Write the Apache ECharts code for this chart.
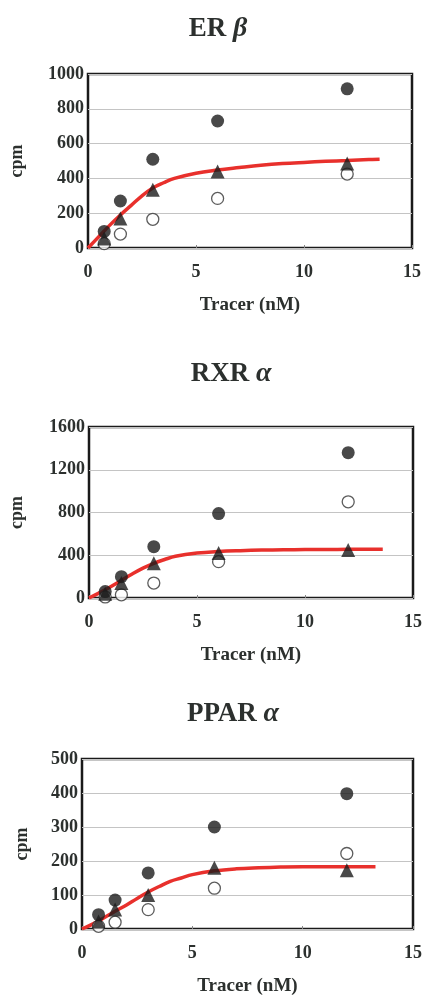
<!DOCTYPE html>
<html>
<head>
<meta charset="utf-8">
<title>Tracer binding</title>
<style>
  html, body { margin: 0; padding: 0; background: #fff; }
  #main { width: 425px; height: 997px; }
</style>
</head>
<body>
<div id="main"></div>
<script src="https://cdn.jsdelivr.net/npm/echarts@6/dist/echarts.min.js"></script>
<script>
// tracer concentrations (nM)
var tracer = [0.75, 1.5, 3, 6, 12];

// ER beta
var erTotal = [95, 270, 510, 730, 915];
var erSpecific = [55, 170, 335, 440, 485];
var erNonspecific = [25, 80, 165, 285, 425];
var erFit = [[0, 0], [0.5, 65], [1, 130], [1.5, 190], [2, 245], [2.5, 300], [3, 345], [3.5, 375], [4, 400],
  [5, 430], [6, 448], [7, 462], [8, 475], [9, 485], [10, 492], [11, 498], [12, 503], [13, 508], [13.5, 510]];

// RXR alpha
var rxrTotal = [60, 200, 480, 790, 1360];
var rxrSpecific = [40, 140, 325, 420, 450];
var rxrNonspecific = [10, 30, 140, 340, 900];
var rxrFit = [[0, 0], [0.5, 50], [1, 105], [1.5, 165], [2, 225], [2.5, 280], [3, 325], [3.5, 360], [4, 390],
  [5, 420], [6, 435], [7, 443], [8, 448], [9, 451], [10, 453], [11, 454], [12, 455], [13, 456], [13.6, 456]];

// PPAR alpha
var pparTotal = [42, 85, 165, 300, 398];
var pparSpecific = [22, 57, 100, 180, 173];
var pparNonspecific = [8, 20, 57, 120, 222];
var pparFit = [[0, 0], [0.5, 15], [1, 33], [1.5, 52], [2, 70], [2.5, 90], [3, 109], [3.5, 125], [4, 140],
  [4.5, 150], [5, 160], [6, 171], [7, 177], [8, 180], [9, 182], [10, 183], [11, 183], [12, 183], [13.3, 183]];

var yMax = [1000, 1600, 500];
var yStep = [200, 400, 100];

var font = '"Liberation Serif", "Times New Roman", serif';
var ink = '#2c302e';

function pairs(ys) {
  return tracer.map(function (x, i) { return [x, ys[i]]; });
}

var panels = [
  { name: 'ER', greek: 'β', total: erTotal, spec: erSpecific, nonspec: erNonspecific, fit: erFit,
    grid: { left: 87, right: 13, top: 74, height: 174 }, titleX: 213, titleY: 10, nameGap: 62 },
  { name: 'RXR', greek: 'α', total: rxrTotal, spec: rxrSpecific, nonspec: rxrNonspecific, fit: rxrFit,
    grid: { left: 89, right: 10, top: 427, height: 171 }, titleX: 226, titleY: 355, nameGap: 63 },
  { name: 'PPAR', greek: 'α', total: pparTotal, spec: pparSpecific, nonspec: pparNonspecific, fit: pparFit,
    grid: { left: 82, right: 8, top: 759, height: 174 }, titleX: 228, titleY: 695, nameGap: 51 }
];

var grids = [], xAxes = [], yAxes = [], titles = [], series = [];

panels.forEach(function (p, i) {
  grids.push({
    left: p.grid.left, right: p.grid.right, top: p.grid.top, height: p.grid.height,
    show: true, borderColor: '#1a1a1a', borderWidth: 2.5, backgroundColor: '#fff'
  });
  titles.push({
    text: '{a|' + p.name + ' }{b|' + p.greek + '}',
    left: p.titleX, top: p.titleY, textAlign: 'center',
    textStyle: {
      rich: {
        a: { fontFamily: font, fontWeight: 'bold', fontSize: 27, color: ink },
        b: { fontFamily: font, fontStyle: 'italic', fontSize: 28, color: ink }
      }
    }
  });
  xAxes.push({
    gridIndex: i, type: 'value', min: 0, max: 15, interval: 5,
    name: 'Tracer (nM)', nameLocation: 'middle', nameGap: 48,
    nameTextStyle: { fontFamily: font, fontWeight: 'bold', fontSize: 19, color: ink },
    axisLine: { show: false },
    axisTick: { show: true, inside: true, length: 3, lineStyle: { color: '#888' } },
    splitLine: { show: false },
    axisLabel: { margin: 15, fontFamily: font, fontWeight: 'bold', fontSize: 18, color: ink }
  });
  yAxes.push({
    gridIndex: i, type: 'value', min: 0, max: yMax[i], interval: yStep[i],
    name: 'cpm', nameLocation: 'middle', nameRotate: 90, nameGap: p.nameGap,
    nameTextStyle: { fontFamily: font, fontWeight: 'bold', fontSize: 18, color: ink },
    axisLine: { show: false },
    axisTick: { show: false },
    splitLine: { show: true, lineStyle: { color: '#c4c4c4', width: 1 } },
    axisLabel: {
      margin: 4, fontFamily: font, fontWeight: 'bold', fontSize: 18, color: ink,
      formatter: function (v) { return String(v); }
    }
  });

  series.push({
    type: 'line', xAxisIndex: i, yAxisIndex: i, data: p.fit, smooth: 0.4,
    symbol: 'none', lineStyle: { color: '#e8302c', width: 3.5 }, z: 2
  });
  series.push({
    type: 'scatter', xAxisIndex: i, yAxisIndex: i, data: pairs(p.nonspec),
    symbol: 'circle', symbolSize: 12,
    itemStyle: { color: '#fff', borderColor: '#333', borderWidth: 1.3 }, z: 3
  });
  series.push({
    type: 'scatter', xAxisIndex: i, yAxisIndex: i, data: pairs(p.total),
    symbol: 'circle', symbolSize: 13, itemStyle: { color: '#1c1c1c' }, z: 4
  });
  series.push({
    type: 'scatter', xAxisIndex: i, yAxisIndex: i, data: pairs(p.spec),
    symbol: 'triangle', symbolSize: 14, itemStyle: { color: '#1c1c1c' }, z: 5
  });
});

var myChart = echarts.init(document.getElementById('main'));
myChart.setOption({
  backgroundColor: '#fff',
  animation: false,
  title: titles,
  grid: grids,
  xAxis: xAxes,
  yAxis: yAxes,
  series: series
});
</script>
</body>
</html>
